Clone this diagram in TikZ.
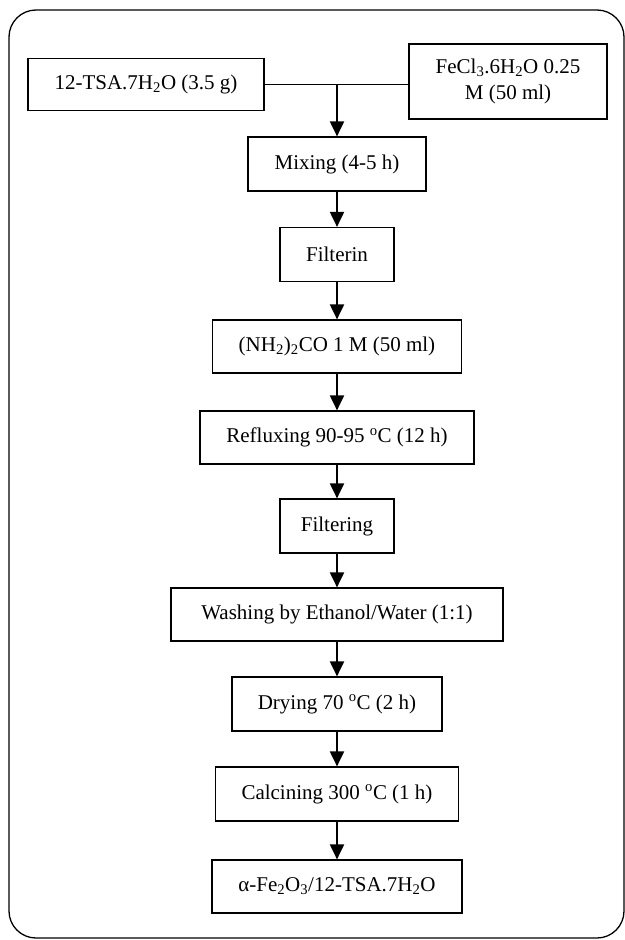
\documentclass[tikz,border=0pt]{standalone}
\usepackage{fontspec}
\setmainfont{Liberation Serif}
\usetikzlibrary{arrows.meta}
\begin{document}
\begin{tikzpicture}[x=1bp,y=-1bp,
  box/.style={draw,line width=1.2bp,inner sep=0pt,font=\fontsize{21bp}{26bp}\selectfont,align=center,minimum height=54bp},
  flow/.style={line width=2bp,-{Triangle[length=15bp,width=14bp]}},
  joinline/.style={line width=1bp}]
\useasboundingbox (0,0) rectangle (625,940);
\draw[line width=1.3bp,rounded corners=27bp] (9,10) rectangle (624,938);
\node[box,minimum width=236bp,minimum height=52bp] (tsa) at (146,84.5) {12-TSA.7H\textsubscript{2}O (3.5 g)};
\node[box,minimum width=198bp,minimum height=75bp] (fecl) at (508,81.5) {FeCl\textsubscript{3}.6H\textsubscript{2}O 0.25\\M (50 ml)};
\node[box,minimum width=178bp] (mix) at (337,164) {Mixing (4-5 h)};
\node[box,minimum width=114bp] (filt1) at (337,254.5) {Filterin};
\node[box,minimum width=249bp,minimum height=53bp] (urea) at (337,346.5) {(NH\textsubscript{2})\textsubscript{2}CO 1 M (50 ml)};
\node[box,minimum width=274bp,minimum height=53bp] (reflux) at (337,437.5) {Refluxing 90-95 \textsuperscript{o}C (12 h)};
\node[box,minimum width=114bp] (filt2) at (337,526) {Filtering};
\node[box,minimum width=332bp,minimum height=53bp] (wash) at (337,614.5) {Washing by Ethanol/Water (1:1)};
\node[box,minimum width=210bp] (dry) at (337,704) {Drying 70 \textsuperscript{o}C (2 h)};
\node[box,minimum width=243bp] (calc) at (337,794) {Calcining 300 \textsuperscript{o}C (1 h)};
\node[box,minimum width=250bp,minimum height=53bp] (alpha) at (337,886.5) {α-Fe\textsubscript{2}O\textsubscript{3}/12-TSA.7H\textsubscript{2}O};
\coordinate (j) at (337,84.5);
\draw[joinline] (tsa.east) -- (tsa.east -| fecl.west);
\draw[flow] (j) -- (mix);
\draw[flow] (mix) -- (filt1);
\draw[flow] (filt1) -- (urea);
\draw[flow] (urea) -- (reflux);
\draw[flow] (reflux) -- (filt2);
\draw[flow] (filt2) -- (wash);
\draw[flow] (wash) -- (dry);
\draw[flow] (dry) -- (calc);
\draw[flow] (calc) -- (alpha);
\end{tikzpicture}
\end{document}
